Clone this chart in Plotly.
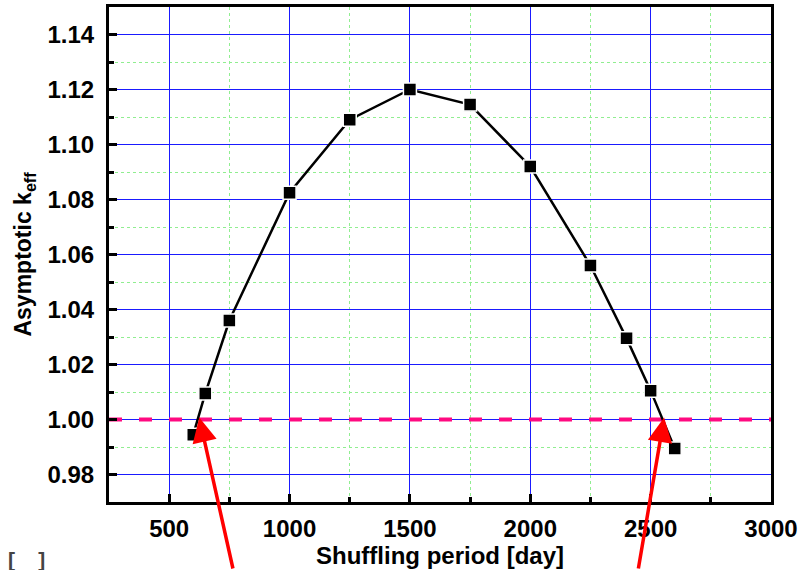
import plotly.graph_objects as go

period = [600, 650, 750, 1000, 1250, 1500, 1750, 2000, 2250, 2400, 2500, 2600]
keff = [0.9945, 1.0095, 1.036, 1.0825, 1.109, 1.120, 1.1145, 1.092, 1.056, 1.0295, 1.0105, 0.9895]
ref_x = [250, 3000]
ref_y = [1.0, 1.0]
arrow_tips_x = [625, 2556]
arrow_tips_y = [1.0007, 1.0007]
arrow_dx = [34, -26]

font = "Liberation Sans, Arial, sans-serif"

fig = go.Figure()
fig.add_trace(go.Scatter(x=ref_x, y=ref_y, mode="lines",
                         line=dict(color="#ff0a80", width=4, dash="13px,17px"),
                         showlegend=False, hoverinfo="skip"))
fig.add_trace(go.Scatter(x=period, y=keff, mode="lines+markers",
                         line=dict(color="black", width=2.5),
                         marker=dict(symbol="square", size=13, color="black",
                                     line=dict(color="white", width=1.5)),
                         showlegend=False))

for tx, ty, ax in zip(arrow_tips_x, arrow_tips_y, arrow_dx):
    fig.add_annotation(x=tx, y=ty, ax=ax, ay=155, xref="x", yref="y",
                       showarrow=True, arrowhead=2, arrowsize=1.4, arrowwidth=3.5,
                       arrowcolor="#ff0000", text="")

fig.add_annotation(x=-0.155, y=-0.088, xref="paper", yref="paper",
                   text="<b>[&nbsp;&nbsp;&nbsp;&nbsp;]</b>",
                   showarrow=False, font=dict(family=font, size=21, color="#444444"),
                   xanchor="left", yanchor="top")

tick_font = dict(family=font, size=24, color="black", weight=700)

axis_common = dict(
    showline=True, linecolor="black", linewidth=3, mirror=True,
    ticks="inside", ticklen=8, tickwidth=3, tickcolor="black",
    showgrid=True, gridcolor="#1a1aff", gridwidth=1,
    zeroline=False, automargin=False,
)

fig.update_xaxes(range=[250, 3000], tick0=500, dtick=500, ticklabelstandoff=3,
                 tickfont=tick_font,
                 minor=dict(dtick=250, tick0=250, ticks="inside", ticklen=5, tickwidth=3,
                            tickcolor="black", showgrid=True, gridcolor="#90ee90",
                            griddash="dot", gridwidth=1),
                 title=dict(text="<b>Shuffling period [day]</b>",
                            font=dict(family=font, size=24, color="black"), standoff=4),
                 **axis_common)
fig.update_yaxes(range=[0.97, 1.15], tick0=0.98, dtick=0.02, tickformat=".2f",
                 ticklabelstandoff=7, tickfont=tick_font,
                 minor=dict(dtick=0.01, tick0=0.97, ticks="inside", ticklen=5, tickwidth=3,
                            tickcolor="black", showgrid=True, gridcolor="#90ee90",
                            griddash="dot", gridwidth=1),
                 title=dict(text="<b>Asymptotic k<sub>eff</sub></b>",
                            font=dict(family=font, size=23, color="black"), standoff=10),
                 **axis_common)

fig.update_layout(width=799, height=570, margin=dict(l=109, r=28, t=7, b=68),
                  plot_bgcolor="white", paper_bgcolor="white")

fig.write_html("out.html")
